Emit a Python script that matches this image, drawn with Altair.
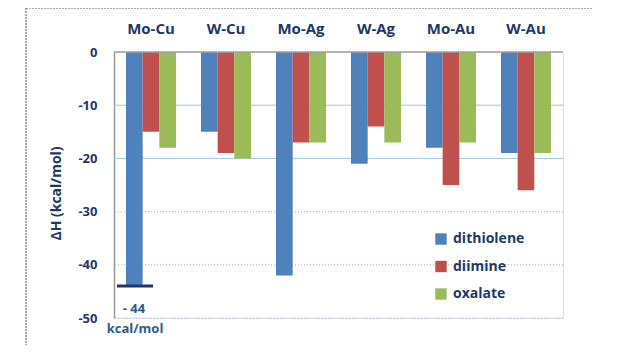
import altair as alt
import pandas as pd

categories = ["Mo-Cu", "W-Cu", "Mo-Ag", "W-Ag", "Mo-Au", "W-Au"]
series = ["dithiolene", "diimine", "oxalate"]
dithiolene = [-44, -15, -42, -21, -18, -19]
diimine = [-15, -19, -17, -14, -25, -26]
oxalate = [-18, -20, -17, -17, -17, -19]
colors = ["#4F81BD", "#C0504D", "#9BBB59"]
y_ticks = [0, -10, -20, -30, -40, -50]
solid_grid = [-10, -20]
dotted_grid = [-30, -40, -50]
note_value = [-44]
note_text = ["- 44"]
note_unit = ["kcal/mol"]

rows = []
for i, c in enumerate(categories):
    for s, vals in zip(series, [dithiolene, diimine, oxalate]):
        rows.append({"complex": c, "ligand": s, "dH": vals[i]})
df = pd.DataFrame(rows)

navy = "#1F3864"
W, H = 449, 266

xscale = alt.Scale(domain=categories, paddingInner=0.333, paddingOuter=0.16)
yscale = alt.Scale(domain=[-50, 0], nice=False, zero=False)

bars = alt.Chart(df).mark_bar(size=16.7).encode(
    x=alt.X("complex:N", scale=xscale, sort=categories,
            axis=alt.Axis(orient="top", title=None, domain=False, ticks=False, grid=False,
                          labelAngle=0, labelFontSize=15, labelFontWeight="bold",
                          labelColor=navy, labelPadding=16, labelFont="Open Sans")),
    xOffset=alt.XOffset("ligand:N", sort=series),
    y=alt.Y("dH:Q", scale=yscale,
            axis=alt.Axis(values=y_ticks, title="ΔH (kcal/mol)", grid=False, ticks=False,
                          labelExpr="toString(datum.value)",
                          domain=True, domainColor="#999999", domainWidth=1.5,
                          labelFontSize=13, labelFontWeight="bold", labelColor=navy,
                          labelPadding=17, labelFont="Open Sans",
                          titleFontSize=14, titleFontWeight="bold", titleColor=navy,
                          titlePadding=14, titleY=141, titleFont="Open Sans")),
    y2=alt.datum(0),
    color=alt.Color("ligand:N", sort=series, scale=alt.Scale(domain=series, range=colors),
                    legend=alt.Legend(orient="none", legendX=320, legendY=180, title=None,
                                      symbolType="square", symbolSize=130, symbolStrokeWidth=0,
                                      labelFontSize=14, labelFontWeight="bold", labelColor=navy,
                                      labelFont="Open Sans", rowPadding=13.5, labelOffset=5)),
)

grid1 = alt.Chart(pd.DataFrame({"v": solid_grid})).mark_rule(color="#9CC8E0", strokeWidth=1).encode(
    y=alt.Y("v:Q", scale=yscale))
grid2 = alt.Chart(pd.DataFrame({"v": dotted_grid})).mark_rule(
    color="#AEB4E8", strokeWidth=1.2, strokeDash=[1, 2]).encode(y=alt.Y("v:Q", scale=yscale))
zero = alt.Chart(pd.DataFrame({"v": [0]})).mark_rule(color="#A0A0A0", strokeWidth=1.5).encode(
    y=alt.Y("v:Q", scale=yscale))

ndf = pd.DataFrame({"v": note_value, "t": note_text, "u": note_unit})
note_rule = alt.Chart(ndf).mark_rule(color=navy, strokeWidth=3).encode(
    y=alt.Y("v:Q", scale=yscale), x=alt.value(3), x2=alt.value(39))
note_t = alt.Chart(ndf).mark_text(dy=23, fontSize=13, fontWeight="bold", color="#2E5C8A",
                                  font="Open Sans").encode(
    y=alt.Y("v:Q", scale=yscale), x=alt.value(20), text="t:N")
note_u = alt.Chart(ndf).mark_text(dy=43, fontSize=13, fontWeight="bold", color="#2E5C8A",
                                  font="Open Sans").encode(
    y=alt.Y("v:Q", scale=yscale), x=alt.value(21), text="u:N")

one = pd.DataFrame({"a": [0]})
border_top = alt.Chart(one).mark_rule(color="#555555", strokeWidth=1, strokeDash=[2, 1]).encode(
    x=alt.value(-88), x2=alt.value(479), y=alt.value(-44))
border_left = alt.Chart(one).mark_rule(color="#555555", strokeWidth=1, strokeDash=[2, 1]).encode(
    x=alt.value(-88), y=alt.value(-44), y2=alt.value(293))

chart = alt.layer(grid1, grid2, bars, zero, note_rule, note_t, note_u, border_top, border_left).properties(
    width=W, height=H,
    autosize=alt.AutoSizeParams(type="none"),
    padding={"left": 106, "top": 44, "right": 40, "bottom": 30},
).configure_view(stroke=None).configure(background="white")

chart.save("out.html", embed_options={"renderer": "svg", "actions": False})
